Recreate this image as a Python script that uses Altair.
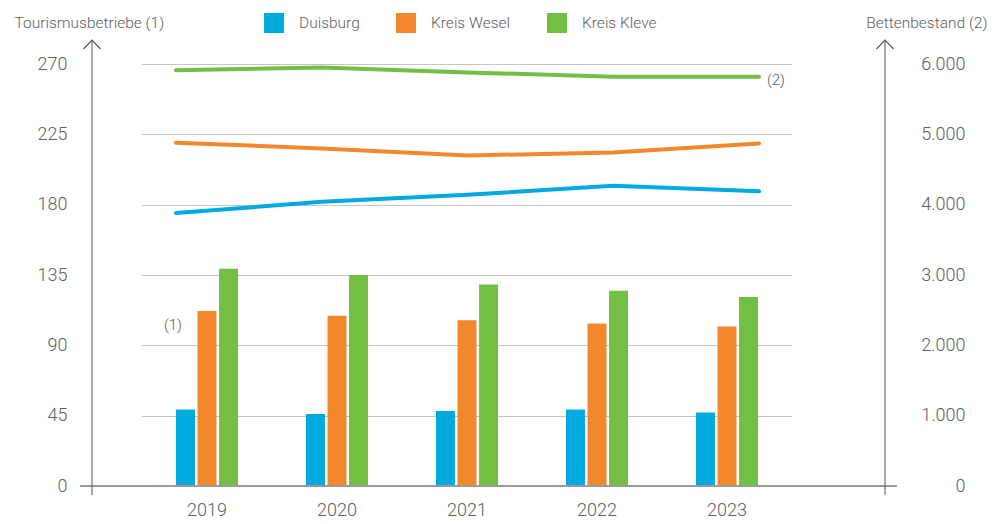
import altair as alt
import pandas as pd

years = ["2019", "2020", "2021", "2022", "2023"]
series = ["Duisburg", "Kreis Wesel", "Kreis Kleve"]
colors = ["#00AADE", "#F2872C", "#72BF44"]

# Tourismusbetriebe (left axis, bars)
betriebe_duisburg = [49, 46, 48, 49, 47]
betriebe_wesel = [112, 109, 106, 104, 102]
betriebe_kleve = [139, 135, 129, 125, 121]

# Bettenbestand (right axis, lines)
betten_duisburg = [3880, 4040, 4140, 4270, 4190]
betten_wesel = [4880, 4800, 4700, 4740, 4870]
betten_kleve = [5910, 5950, 5880, 5820, 5820]

left_ticks = [0, 45, 90, 135, 180, 225, 270]
right_ticks = [0, 1000, 2000, 3000, 4000, 5000, 6000]

W, H = 817, 446
LEFT_MAX = 270 * H / 422
RIGHT_MAX = 6000 * H / 422
TXT = "#606060"

bar_rows = []
line_rows = []
for s, b, l in zip(series,
                   [betriebe_duisburg, betriebe_wesel, betriebe_kleve],
                   [betten_duisburg, betten_wesel, betten_kleve]):
    for y, bv, lv in zip(years, b, l):
        bar_rows.append({"year": y, "series": s, "value": bv})
        line_rows.append({"year": y, "series": s, "value": lv})
bar_df = pd.DataFrame(bar_rows)
line_df = pd.DataFrame(line_rows)

color_enc = alt.Color(
    "series:N", sort=series,
    scale=alt.Scale(domain=series, range=colors),
    legend=alt.Legend(title=None, orient="none", legendX=184, legendY=-27,
                      direction="horizontal", symbolType="square", symbolSize=400,
                      symbolStrokeWidth=0, symbolOpacity=1, labelFontSize=15.5,
                      labelFontWeight=300,
                      labelColor=TXT, labelOffset=15, columnPadding=36, padding=0),
)

bars = alt.Chart(bar_df).mark_bar().encode(
    x=alt.X("year:N", sort=years,
            scale=alt.Scale(range=[62, 712], paddingInner=0, paddingOuter=0),
            axis=alt.Axis(title=None, domain=False, ticks=False, labelPadding=15,
                          labelFontSize=18, labelFontWeight=300, labelColor=TXT, labelAngle=0)),
    xOffset=alt.XOffset("series:N", sort=series,
                        scale=alt.Scale(range=[34, 96], paddingInner=0.12, paddingOuter=0)),
    y=alt.Y("value:Q",
            scale=alt.Scale(domain=[0, LEFT_MAX], nice=False),
            axis=alt.Axis(orient="left", values=left_ticks, title="Tourismusbetriebe (1)",
                          titleAngle=0, titleX=-66, titleY=-18, titleAlign="left",
                          titleBaseline="middle", titleFontSize=15.5, titleFontWeight=300,
                          titleColor=TXT, labelFontSize=18, labelFontWeight=300,
                          labelColor=TXT, labelPadding=13,
                          ticks=False, domain=False, grid=True, gridDash=[1, 1],
                          gridColor="#8a8a8a", gridWidth=1)),
    color=color_enc,
)

note1 = alt.Chart(pd.DataFrame({"year": ["2019"], "value": [103], "label": ["(1)"]})).mark_text(
    dx=-34, fontSize=15, fontWeight=300, color=TXT
).encode(x=alt.X("year:N", sort=years), y="value:Q", text="label:N")

one = pd.DataFrame({"d": [0]})
left_line = alt.Chart(one).mark_rule(color="#555555", strokeWidth=1).encode(
    x=alt.value(12), y=alt.value(0), y2=alt.value(455))
right_line = alt.Chart(one).mark_rule(color="#555555", strokeWidth=1).encode(
    x=alt.value(805), y=alt.value(0), y2=alt.value(455))
baseline = alt.Chart(one).mark_rule(color="#9a9a9a", strokeWidth=2).encode(
    x=alt.value(0), x2=alt.value(W), y=alt.value(H))
arrow_shape = "M-1,1.06L0,0L1,1.06"
left_arrow = alt.Chart(one).mark_point(shape=arrow_shape, filled=False, size=289,
                                       color="#555555", strokeWidth=1.2, opacity=1).encode(
    x=alt.value(12), y=alt.value(0))
right_arrow = alt.Chart(one).mark_point(shape=arrow_shape, filled=False, size=289,
                                        color="#555555", strokeWidth=1.2, opacity=1).encode(
    x=alt.value(805), y=alt.value(0))

bar_group = alt.layer(bars, note1, baseline, left_line, right_line, left_arrow, right_arrow)

lines = alt.Chart(line_df).mark_line(strokeWidth=4, strokeCap="round").encode(
    x=alt.X("year:N", sort=years,
            scale=alt.Scale(type="point", range=[96, 679], padding=0), axis=None),
    y=alt.Y("value:Q",
            scale=alt.Scale(domain=[0, RIGHT_MAX], nice=False),
            axis=alt.Axis(orient="right", values=right_ticks, title="Bettenbestand (2)",
                          labelExpr="replace(format(datum.value, ','), ',', '.')",
                          titleAngle=0, titleX=90, titleY=-18, titleAlign="right",
                          titleBaseline="middle", titleFontSize=15.5, titleFontWeight=300,
                          titleColor=TXT, labelFontSize=18, labelFontWeight=300,
                          labelColor=TXT, labelPadding=68,
                          labelAlign="right", ticks=False, domain=False, grid=False)),
    color=alt.Color("series:N", sort=series, legend=None),
)

note2 = alt.Chart(pd.DataFrame({"year": ["2023"], "value": [5820], "label": ["(2)"]})).mark_text(
    align="left", dx=8, dy=3, fontSize=15, fontWeight=300, color=TXT
).encode(x=alt.X("year:N", sort=years), y="value:Q", text="label:N")

line_group = alt.layer(lines, note2)

chart = alt.layer(bar_group, line_group).resolve_scale(
    x="independent", y="independent"
).resolve_legend(color="independent").properties(
    width=W, height=H,
    autosize=alt.AutoSizeParams(type="none"),
    padding={"left": 72, "top": 32, "right": 91, "bottom": 36},
).configure(font="Roboto").configure_view(stroke=None)

chart.save("out.html", embed_options={"renderer": "svg", "actions": False})
